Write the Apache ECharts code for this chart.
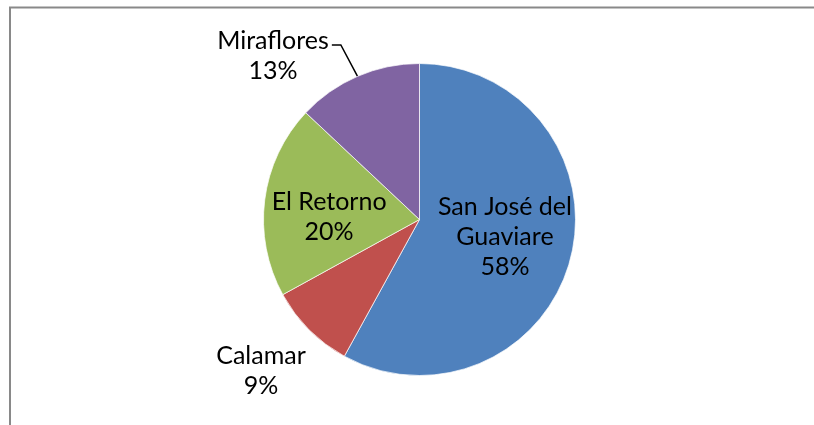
<!DOCTYPE html>
<html>
<head>
<meta charset="utf-8">
<script src="https://cdn.jsdelivr.net/npm/echarts@6/dist/echarts.min.js"></script>
<style>
  html, body { margin: 0; padding: 0; background: #fff; }
  #chart { width: 814px; height: 425px; }
</style>
</head>
<body>
<div id="chart"></div>
<script>
// municipios y porcentajes
var categories = ["San José del Guaviare", "Calamar", "El Retorno", "Miraflores"];
var values = [58, 9, 20, 13];
var colors = ["#4F81BD", "#C0504D", "#9BBB59", "#8064A2"];
// como se parte cada etiqueta en lineas
var labelNames = ["San José del\nGuaviare", "Calamar", "El Retorno", "Miraflores"];
var labelInside = [true, false, true, false];

var fontFamily = "Lato, 'Noto Sans', sans-serif";
var fontSize = 25;

var chart = echarts.init(document.getElementById("chart"), null, { renderer: "canvas" });

var data = categories.map(function (name, i) {
  var item = {
    name: name,
    value: values[i],
    itemStyle: { color: colors[i] },
    label: { position: labelInside[i] ? "inside" : "outside" }
  };
  if (name === "Calamar") {
    item.labelLine = { show: false };
  }
  return item;
});

chart.setOption({
  animation: false,
  backgroundColor: "#fff",
  graphic: [
    {
      type: "rect",
      shape: { x: 10, y: 7.5, width: 1000, height: 1000 },
      style: { fill: "none", stroke: "#898989", lineWidth: 2 },
      silent: true
    }
  ],
  series: [
    {
      type: "pie",
      center: [419.5, 219.5],
      radius: [0, 156],
      startAngle: 90,
      clockwise: true,
      data: data,
      itemStyle: {
        borderColor: "rgba(255,255,255,0.7)",
        borderWidth: 1
      },
      label: {
        color: "#000",
        fontFamily: fontFamily,
        fontSize: fontSize,
        lineHeight: 30,
        formatter: function (p) {
          return "{t|" + labelNames[p.dataIndex].split("\n").join("}\n{t|") + "}\n{t|" + p.value + "%}";
        },
        rich: {
          t: {
            color: "#000",
            fontFamily: fontFamily,
            fontSize: fontSize,
            lineHeight: 30,
            align: "center"
          }
        }
      },
      labelLine: {
        show: true,
        length: 37,
        length2: 10,
        lineStyle: { color: "#000", width: 1.5 }
      },
      labelLayout: function (p) {
        if (p.dataIndex === 3) {
          // leader line: from the slice edge up, then a short flat piece to the text
          var right = 273 + p.labelRect.width / 2 + 3;
          var start = p.labelLinePoints ? p.labelLinePoints[0] : [358, 78];
          return {
            x: 273,
            y: 56,
            align: "center",
            verticalAlign: "middle",
            labelLinePoints: [start, [right + 9, 45], [right, 45]]
          };
        }
        if (p.dataIndex === 1) {
          return { x: 261, y: 371, align: "center", verticalAlign: "middle" };
        }
        if (p.dataIndex === 2) {
          return { dx: -10, dy: 8 };
        }
        if (p.dataIndex === 0) {
          return { dx: 7, dy: -3 };
        }
        return {};
      }
    }
  ]
});
</script>
</body>
</html>
